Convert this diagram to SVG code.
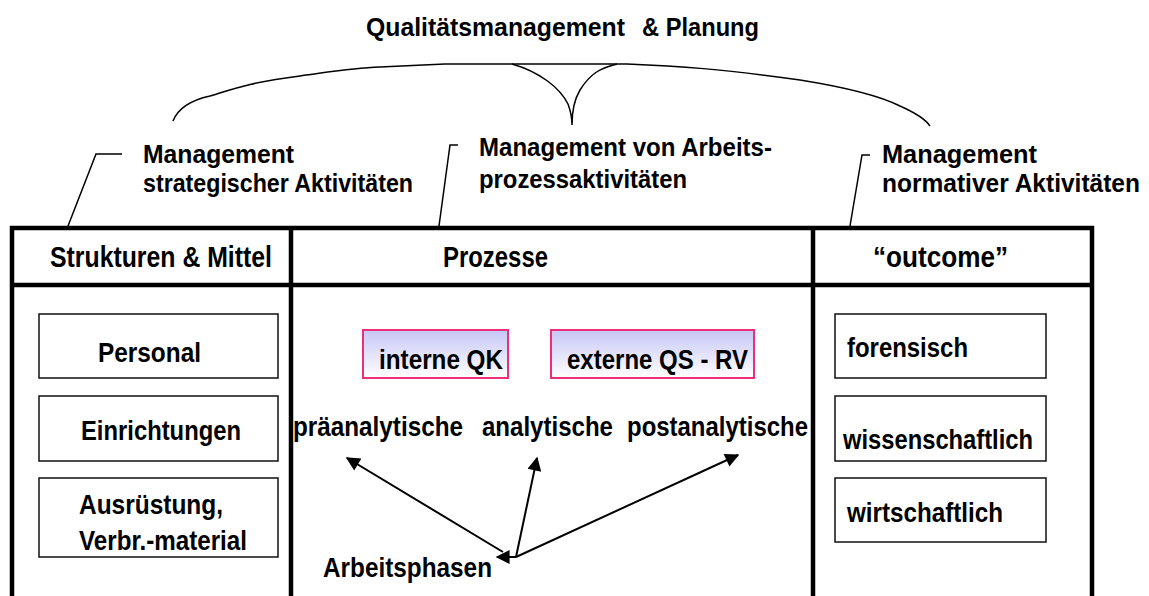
<svg xmlns="http://www.w3.org/2000/svg" width="1149" height="596" viewBox="0 0 1149 596">
<style>
text{font-family:"Liberation Sans",Arial,sans-serif;font-weight:bold;fill:#000}
.lbl{font-size:25.5px}
.hdr{font-size:30px}
.box{font-size:28.5px}
.frame{fill:none;stroke:#000;stroke-width:4.5}
.ibox{fill:#fff;stroke:#111;stroke-width:1.5}
.pbox{fill:url(#lav);stroke:#ec2f78;stroke-width:2}
.thin{fill:none;stroke:#000;stroke-width:1.5}
.arr{fill:none;stroke:#000;stroke-width:2}
</style>
<defs>
<linearGradient id="lav" x1="0" y1="0" x2="0" y2="1">
<stop offset="0" stop-color="#c6c6f6"/>
<stop offset="1" stop-color="#ffffff"/>
</linearGradient>
<marker id="ah" viewBox="0 0 10 10" refX="9" refY="5" markerUnits="userSpaceOnUse" markerWidth="18" markerHeight="14" orient="auto">
<path d="M0,0 L10,5 L0,10 z" fill="#000"/>
</marker>
</defs>
<rect width="1149" height="596" fill="#fff"/>

<g id="title">
<text x="366" y="36" style="font-size:26.5px" textLength="259" lengthAdjust="spacingAndGlyphs">Qualitätsmanagement</text>
<text x="642" y="36" style="font-size:26.5px" textLength="117" lengthAdjust="spacingAndGlyphs">&amp; Planung</text>
</g>

<g id="connectors">
<path class="thin" d="M173,121 C178,108 192,100 210,96 C230,90 250,82 300,76 C330,72 350,68 380,67 L445,64 L627,64 C680,66 720,69 800,80 C850,88 880,96 900,106 C918,114 926,120 930,126"/>
<path class="thin" d="M512,64 C540,72 560,88 568,104 C571,112 572,118 572,125 C572,112 574,100 580,90 C590,74 600,68 617,64"/>
<polyline class="thin" points="122,154 96,154 68,226"/>
<polyline class="thin" points="458,145 450,145 439,226"/>
<polyline class="thin" points="870,155 862,155 850,226"/>
<line class="arr" x1="503" y1="552" x2="347" y2="458" marker-end="url(#ah)"/>
<line class="arr" x1="516" y1="557" x2="537" y2="458" marker-end="url(#ah)"/>
<line class="arr" x1="516" y1="557" x2="738" y2="455" marker-end="url(#ah)"/>
<line class="arr" x1="516" y1="557" x2="497" y2="557" marker-end="url(#ah)"/>
</g>

<g id="label-strategisch">
<text class="lbl" x="143" y="163" textLength="151" lengthAdjust="spacingAndGlyphs">Management</text>
<text class="lbl" x="143" y="192" textLength="270" lengthAdjust="spacingAndGlyphs">strategischer Aktivitäten</text>
</g>
<g id="label-prozess">
<text class="lbl" x="479" y="156" textLength="293" lengthAdjust="spacingAndGlyphs">Management von Arbeits-</text>
<text class="lbl" x="479" y="188" textLength="208" lengthAdjust="spacingAndGlyphs">prozessaktivitäten</text>
</g>
<g id="label-normativ">
<text class="lbl" x="882" y="163" textLength="155" lengthAdjust="spacingAndGlyphs">Management</text>
<text class="lbl" x="882" y="192" textLength="258" lengthAdjust="spacingAndGlyphs">normativer Aktivitäten</text>
</g>

<g id="frame">
<rect class="frame" x="12" y="228" width="1080" height="380"/>
<line class="frame" x1="12" y1="285" x2="1092" y2="285"/>
<line class="frame" x1="291" y1="228" x2="291" y2="596"/>
<line class="frame" x1="813" y1="228" x2="813" y2="596"/>
</g>

<g id="hdr-strukturen"><text class="hdr" x="50" y="267" textLength="222" lengthAdjust="spacingAndGlyphs">Strukturen &amp; Mittel</text></g>
<g id="hdr-prozesse"><text class="hdr" x="443" y="267" textLength="105" lengthAdjust="spacingAndGlyphs">Prozesse</text></g>
<g id="hdr-outcome"><text class="hdr" x="873" y="267" textLength="135" lengthAdjust="spacingAndGlyphs">“outcome”</text></g>

<g id="node-personal">
<rect class="ibox" x="39" y="314" width="239" height="64"/>
<text class="box" x="98" y="362" textLength="103" lengthAdjust="spacingAndGlyphs">Personal</text>
</g>
<g id="node-einrichtungen">
<rect class="ibox" x="39" y="396" width="239" height="65"/>
<text class="box" x="81" y="440" textLength="160" lengthAdjust="spacingAndGlyphs">Einrichtungen</text>
</g>
<g id="node-ausruestung">
<rect class="ibox" x="39" y="478" width="239" height="79"/>
<text class="box" x="79" y="514" textLength="144" lengthAdjust="spacingAndGlyphs">Ausrüstung,</text>
<text class="box" x="79" y="550" textLength="168" lengthAdjust="spacingAndGlyphs">Verbr.-material</text>
</g>

<g id="node-forensisch">
<rect class="ibox" x="835" y="314" width="211" height="64"/>
<text class="box" x="847" y="357" textLength="121" lengthAdjust="spacingAndGlyphs">forensisch</text>
</g>
<g id="node-wissenschaftlich">
<rect class="ibox" x="835" y="396" width="211" height="65"/>
<text class="box" x="843" y="449" textLength="190" lengthAdjust="spacingAndGlyphs">wissenschaftlich</text>
</g>
<g id="node-wirtschaftlich">
<rect class="ibox" x="835" y="478" width="211" height="64"/>
<text class="box" x="847" y="522" textLength="156" lengthAdjust="spacingAndGlyphs">wirtschaftlich</text>
</g>

<g id="node-interne-qk">
<rect class="pbox" x="363" y="330" width="145" height="48"/>
<text class="box" x="379" y="369" textLength="124" lengthAdjust="spacingAndGlyphs">interne QK</text>
</g>
<g id="node-externe-qs">
<rect class="pbox" x="551" y="330" width="203" height="48"/>
<text class="box" x="567" y="369" textLength="181" lengthAdjust="spacingAndGlyphs">externe QS - RV</text>
</g>

<g id="node-praeanalytisch"><text class="box" x="293" y="436" textLength="170" lengthAdjust="spacingAndGlyphs">präanalytische</text></g>
<g id="node-analytisch"><text class="box" x="482" y="436" textLength="131" lengthAdjust="spacingAndGlyphs">analytische</text></g>
<g id="node-postanalytisch"><text class="box" x="627" y="436" textLength="181" lengthAdjust="spacingAndGlyphs">postanalytische</text></g>
<g id="node-arbeitsphasen"><text class="box" x="323" y="577" textLength="169" lengthAdjust="spacingAndGlyphs">Arbeitsphasen</text></g>
</svg>
